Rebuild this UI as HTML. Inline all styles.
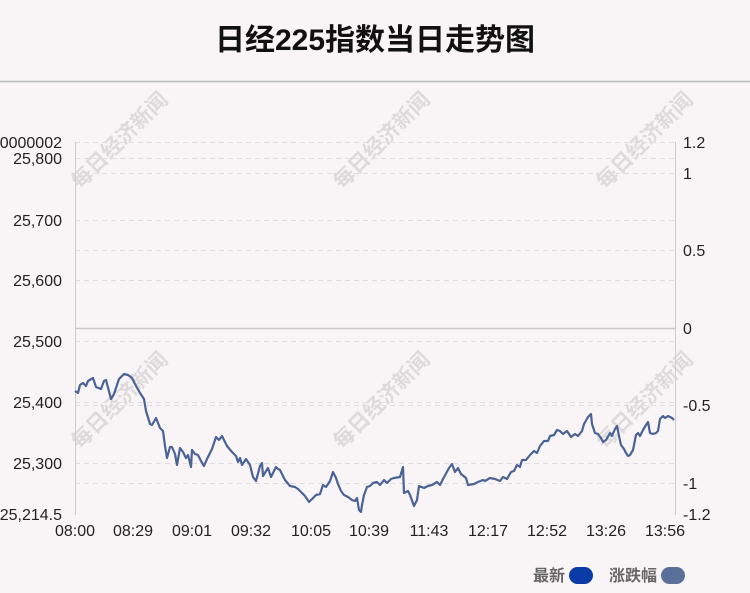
<!DOCTYPE html>
<html><head><meta charset="utf-8"><style>
body{margin:0;background:#f9f5f6;}
svg{display:block;font-family:"Liberation Sans","Noto Sans CJK SC",sans-serif;}
</style></head><body>
<svg width="750" height="593" viewBox="0 0 750 593">
<rect width="750" height="593" fill="#f9f5f6"/>
<text x="375" y="50" text-anchor="middle" font-size="30" font-weight="bold" fill="#111">日经225指数当日走势图</text>
<line x1="0" y1="81.5" x2="750" y2="81.5" stroke="#b8b8b8" stroke-width="1.5"/>
<g fill="#d8d4d5" font-size="21" font-weight="bold" opacity="0.8">
<text transform="translate(80,190) rotate(-45)">每日经济新闻</text>
<text transform="translate(342,190) rotate(-45)">每日经济新闻</text>
<text transform="translate(605,190) rotate(-45)">每日经济新闻</text>
<text transform="translate(80,450) rotate(-45)">每日经济新闻</text>
<text transform="translate(342,450) rotate(-45)">每日经济新闻</text>
<text transform="translate(605,450) rotate(-45)">每日经济新闻</text>
</g>
<g stroke="#dedede" stroke-dasharray="5,4" stroke-width="1">
<line x1="75" y1="142.5" x2="675" y2="142.5"/>
<line x1="75" y1="158.5" x2="675" y2="158.5"/>
<line x1="75" y1="173.5" x2="675" y2="173.5"/>
<line x1="75" y1="220.5" x2="675" y2="220.5"/>
<line x1="75" y1="250.5" x2="675" y2="250.5"/>
<line x1="75" y1="280.5" x2="675" y2="280.5"/>
<line x1="75" y1="341.5" x2="675" y2="341.5"/>
<line x1="75" y1="402.5" x2="675" y2="402.5"/>
<line x1="75" y1="405.5" x2="675" y2="405.5"/>
<line x1="75" y1="463.5" x2="675" y2="463.5"/>
<line x1="75" y1="483.5" x2="675" y2="483.5"/>
</g>
<line x1="75" y1="328.5" x2="675" y2="328.5" stroke="#c8c8c8" stroke-width="1.5"/>
<line x1="75.5" y1="142" x2="75.5" y2="515" stroke="#ccc"/>
<line x1="675.5" y1="142" x2="675.5" y2="515" stroke="#ccc"/>
<g font-size="16" fill="#222" text-anchor="end">
<text x="62" y="148">0000002</text>
<text x="62" y="164">25,800</text>
<text x="62" y="226">25,700</text>
<text x="62" y="286">25,600</text>
<text x="62" y="347">25,500</text>
<text x="62" y="408">25,400</text>
<text x="62" y="469">25,300</text>
<text x="62" y="520">25,214.5</text>
</g>
<g font-size="16" fill="#222">
<text x="683" y="148">1.2</text>
<text x="683" y="179">1</text>
<text x="683" y="256">0.5</text>
<text x="683" y="334">0</text>
<text x="683" y="411">-0.5</text>
<text x="683" y="489">-1</text>
<text x="683" y="520">-1.2</text>
</g>
<g font-size="16" fill="#222" text-anchor="middle">
<text x="75" y="536">08:00</text><text x="133" y="536">08:29</text><text x="192" y="536">09:01</text>
<text x="251" y="536">09:32</text><text x="311" y="536">10:05</text><text x="369" y="536">10:39</text>
<text x="429" y="536">11:43</text><text x="488" y="536">12:17</text><text x="547" y="536">12:52</text>
<text x="606" y="536">13:26</text><text x="665" y="536">13:56</text>
</g>
<polyline fill="none" stroke="#4a6296" stroke-width="2.2" stroke-linejoin="round" points="75,391 78,393 80,385 83,383 86,386 88,381 93,378 96,387 101,389 104,381 106,380 111,399 114,394 119,379 124,374 128,375 132,378 135,384 140,393 144,399 146,411 150,424 152,425 156,418 160,428 163,431 165,446 167,458 170,447 172,447 175,454 177,465 180,448 183,452 186,458 188,455 191,467 192,450 195,454 198,455 201,461 204,466 207,459 212,449 216,437 219,440 222,436 227,446 232,452 236,456 238,462 240,458 242,465 246,459 250,465 253,477 256,481 260,466 262,463 263,476 268,468 271,477 276,467 278,469 280,470 285,480 290,486 295,487 298,489 300,491 305,496 309,502 312,499 316,495 320,494 323,485 326,487 330,481 333,472 336,478 338,484 341,491 344,495 348,497 352,500 355,501 357,498 359,510 361,512 362,505 364,495 367,487 370,486 373,483 377,482 380,485 384,480 387,483 391,479 394,478 400,477 403,467 404,493 408,491 410,495 414,506 417,500 419,486 424,488 428,486 432,485 437,482 440,485 443,479 449,468 452,464 455,472 458,468 461,474 466,478 468,485 474,484 478,482 483,480 485,481 490,478 495,479 500,481 503,477 507,479 511,472 514,471 517,465 520,467 522,460 526,460 530,455 534,451 537,453 540,446 544,441 548,441 550,436 554,435 557,430 560,431 563,434 567,431 571,437 575,434 578,436 582,431 584,424 588,417 591,414 592,424 595,433 598,434 601,438 603,442 606,440 610,433 612,436 615,429 617,426 619,436 621,445 624,449 626,453 628,456 630,455 633,450 636,435 638,433 640,436 643,430 646,425 648,422 650,433 653,434 656,433 658,431 660,419 663,416 665,418 668,416 672,418 674,420"/>
<g font-size="16" font-weight="bold" fill="#666">
<text x="533" y="581">最新</text>
<text x="609" y="581">涨跌幅</text>
</g>
<rect x="569" y="567" width="24" height="17" rx="8.5" fill="#0a3aa5"/>
<rect x="661" y="567" width="24" height="17" rx="8.5" fill="#5a6f9a"/>
</svg>
</body></html>
